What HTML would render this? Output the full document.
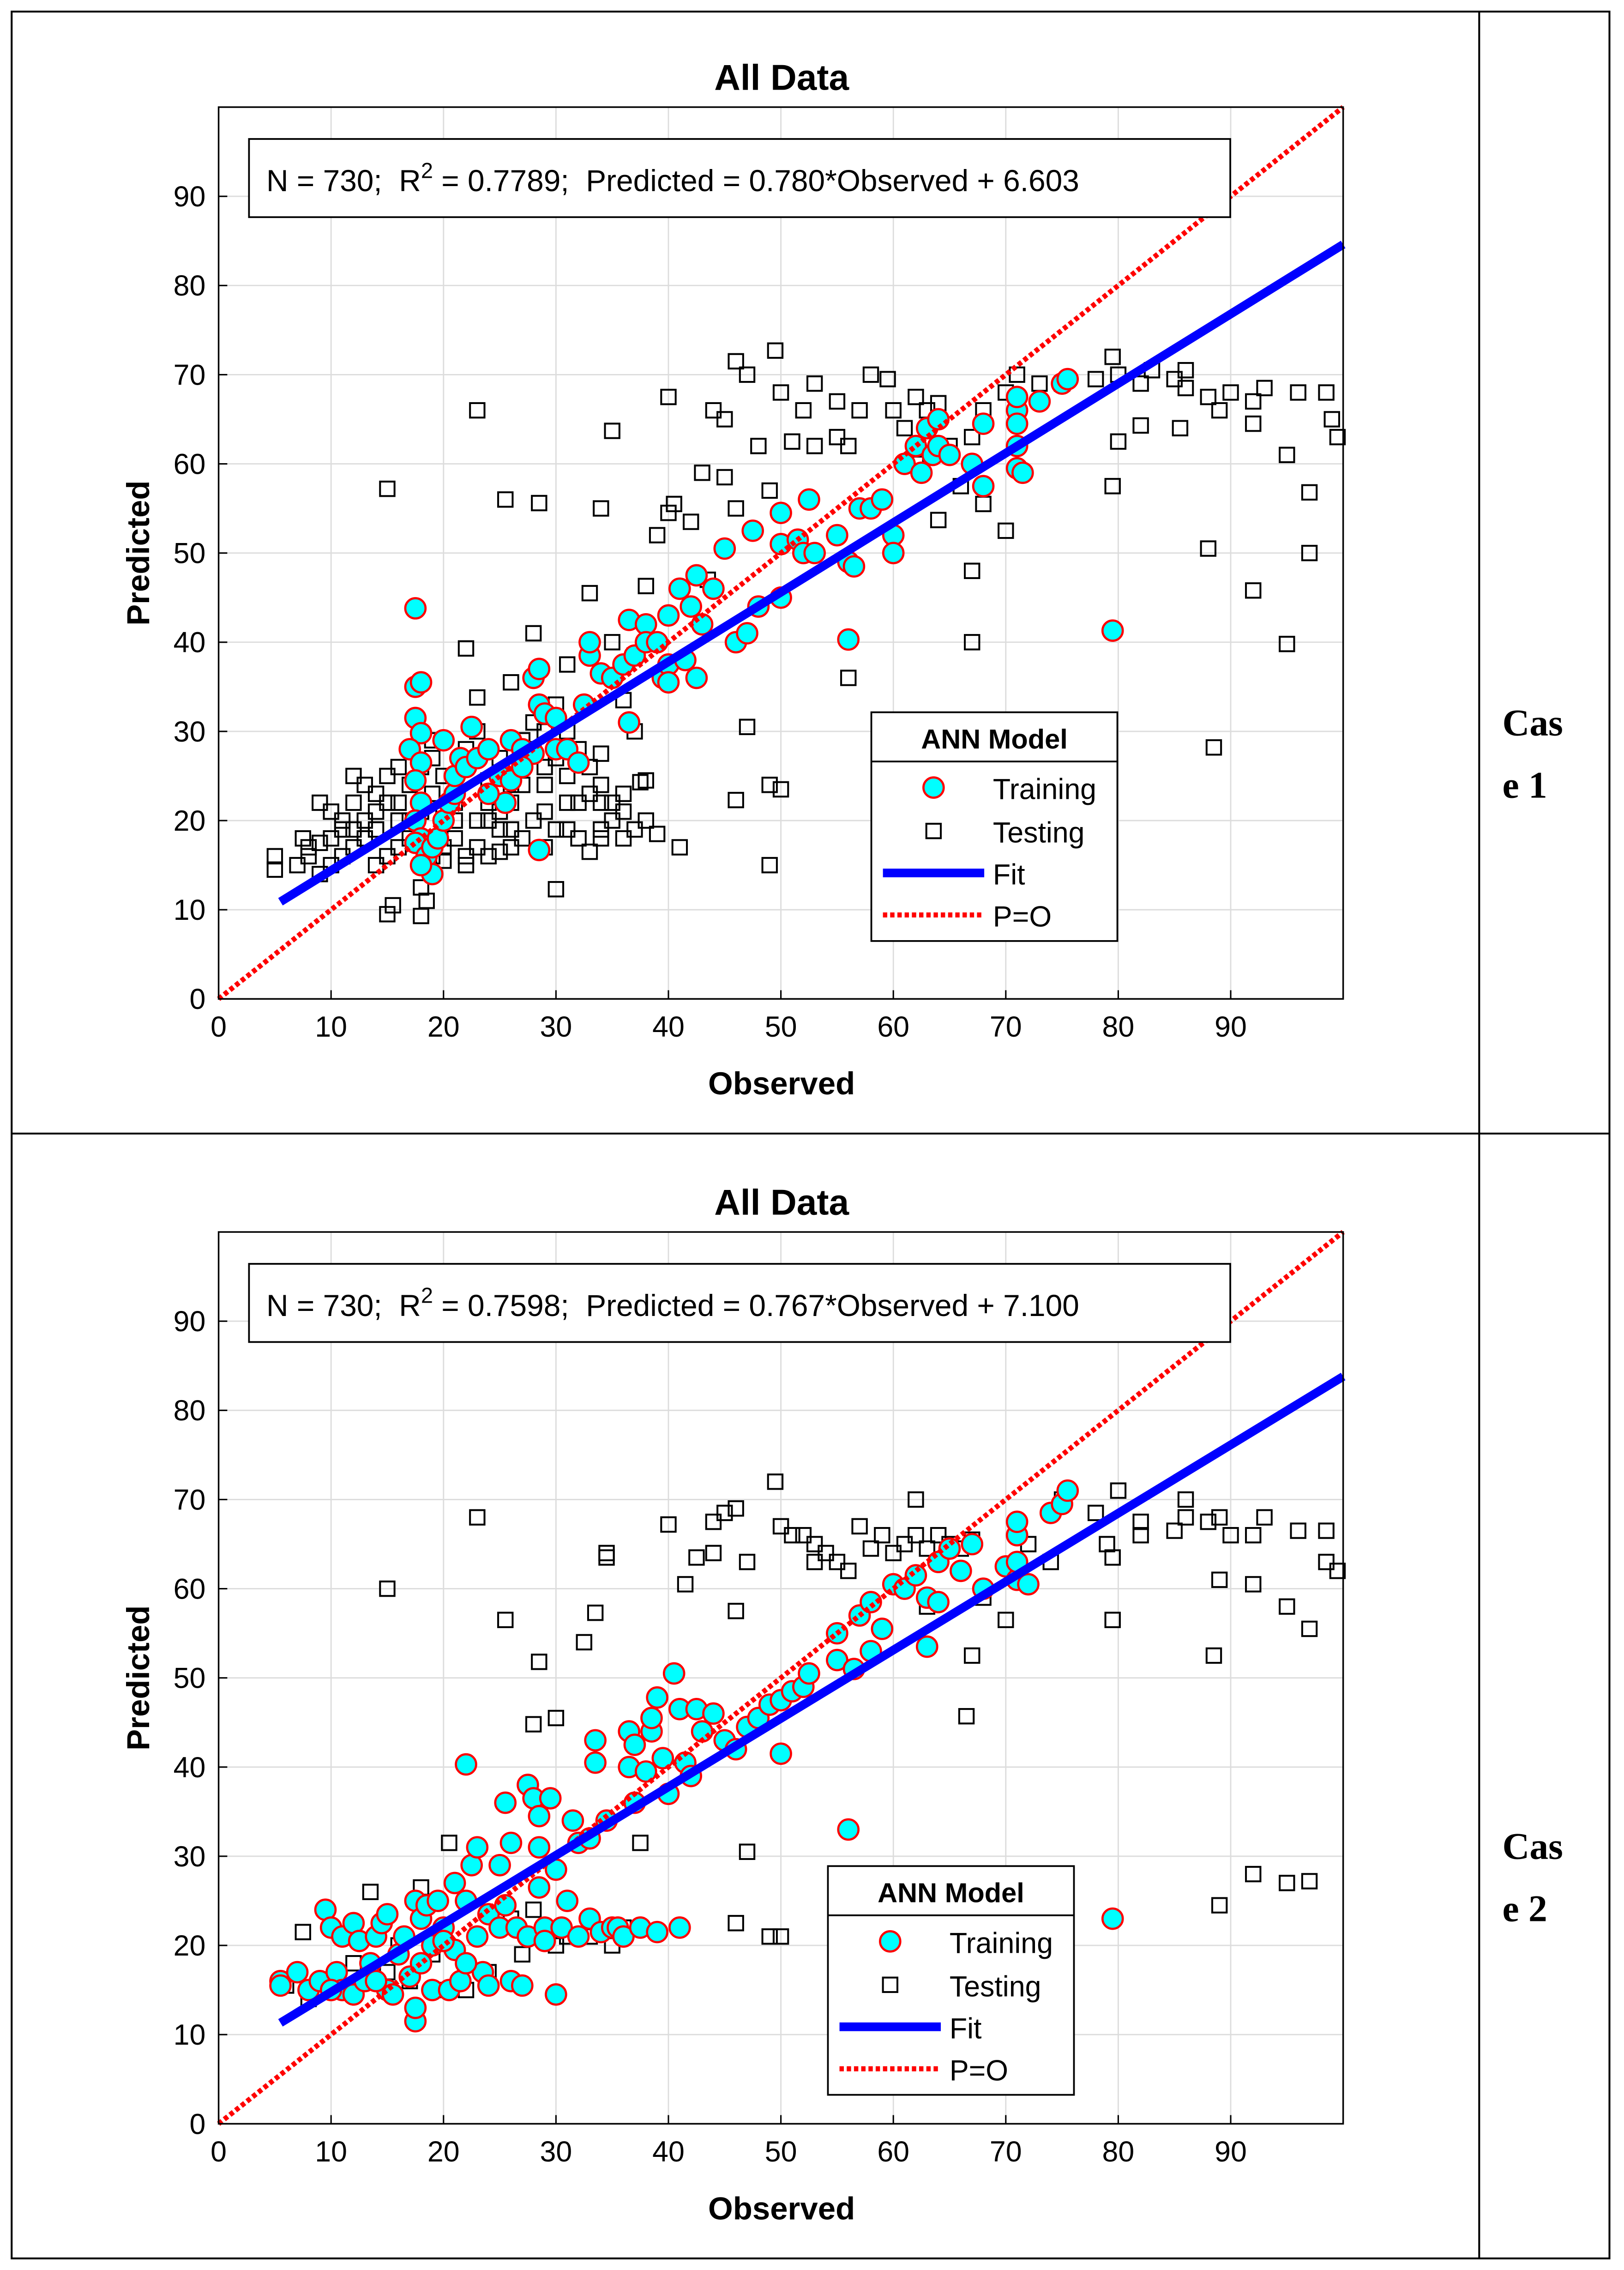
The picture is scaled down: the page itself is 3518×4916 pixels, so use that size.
<!DOCTYPE html>
<html><head><meta charset="utf-8"><style>
html,body{margin:0;padding:0;background:#fff}
svg{display:block}
text{font-family:"Liberation Sans",Arial,sans-serif;white-space:pre}
</style></head><body>
<svg id="chart" xmlns="http://www.w3.org/2000/svg" width="3518" height="4916" viewBox="0 0 1122 1568">
<rect x="0" y="0" width="1122" height="1568" fill="#fff"/>
<g fill="none" stroke="#000" stroke-width="1.3">
<rect x="8" y="8" width="1104" height="1552"/>
<line x1="1022" y1="8" x2="1022" y2="1560"/>
<line x1="8" y1="783" x2="1112" y2="783"/>
</g>
<g font-weight="bold" font-size="26">
<text x="1038" y="508" style="font-family:'Liberation Serif',serif">Cas</text>
<text x="1038" y="551" style="font-family:'Liberation Serif',serif">e 1</text>
</g>
<g font-weight="bold" font-size="26">
<text x="1038" y="1284" style="font-family:'Liberation Serif',serif">Cas</text>
<text x="1038" y="1327" style="font-family:'Liberation Serif',serif">e 2</text>
</g>
</svg>
<script>
const xTicks=[0,10,20,30,40,50,60,70,80,90];
const yTicks=[0,10,20,30,40,50,60,70,80,90];
const fit1=[0.780,6.603];
const fit2=[0.767,7.100];
const stats1=["730","0.7789","0.780","6.603"];
const stats2=["730","0.7598","0.767","7.100"];
const test1=[[46,71.5],[49.5,72.7],[47,70],[50,68],[52,66],[53,69],[55,67],[58,70],[59.5,69.5],[57,66],[60,66],[62,67.5],[63,66],[64,66.8],[56,62],[53,62],[51,62.5],[48,62],[45,65],[44,66],[43,59],[45,58.5],[49,57],[55,63],[61,64],[62,60],[65,62],[66,57.5],[67,63],[68,66],[70,68],[71,70],[73,69],[75,69],[78,69.5],[79.5,72],[80,70],[82,69],[83,70.5],[85,69.5],[86,70.5],[86,68.5],[88,67.5],[89,66],[90,68],[92,67],[93,68.5],[96,68],[98.5,68],[99,65],[99.5,63],[95,61],[92,64.5],[88,50.5],[92,45.8],[95,39.8],[97,50],[97,56.8],[80,62.5],[79.5,57.5],[82,64.3],[85.5,64],[88.5,28.2],[67,40],[67,48],[70,52.5],[68,55.5],[64,53.7],[56,36],[49,15],[49,24],[50,23.5],[47,30.5],[46,22.3],[46,55],[43.5,47],[42,53.5],[40,67.5],[40,54.5],[40.5,55.5],[39,52],[38,46.3],[41,17],[39,18.5],[37.5,24.3],[35,63.7],[34,55],[33,45.5],[30,12.3],[28.5,55.6],[25.5,56],[23,66],[15,57.2],[22,39.3],[28,41],[23,33.8],[26,35.5],[31,37.5],[36,33.5],[15,9.5],[15.5,10.5],[18,9.3],[18.5,11],[7,15],[8,16],[9,17.5],[10,18],[11,19],[10,21],[12,22],[13,20],[14,23],[15,25],[16,22],[17,24],[18,26],[19,27],[20,25],[21,23],[22,28],[23,30],[24,22],[25,21],[26,24],[27,26],[28,31],[29,30],[30,27],[31,25],[32,22],[33,23],[34,19],[35,20],[36,18],[37,19],[5,14.5],[5,16],[7.5,18],[9,22],[11,16],[12,17],[13,18],[14,15],[15,16],[16,17],[17,18],[18,15],[19,16],[20,17],[21,18],[22,16],[23,17],[24,16],[25,16.5],[26,17],[27,18],[28,20],[29,21],[30,19],[31,22],[32,18],[33,16.5],[34,18],[35,22],[36,23],[38,20],[26,22],[23,20],[20,21],[17,20],[14,19],[11,20],[8,17],[12,25],[16,26],[19,29],[22,26],[25,27],[28,28],[31,30],[30,33],[27,29],[24,24.5],[21,22],[18,21],[15,22],[13,24],[10,15],[9,14],[27,24],[29,24],[33,26],[34,24],[36,21],[38,24.5],[20,15.5],[22,15],[18,12.5],[25,19],[29,26],[32,28],[12,19],[14,21],[16,20],[19,23],[21,20],[24,20],[26,19],[29,17],[31,19],[34,22],[37,30],[34,27.5],[35,40],[37,38.5]];
const train1=[[17.5,43.8],[17.5,35],[18,35.5],[17.5,31.5],[18,29.8],[17,28],[18,26.5],[17.5,24.5],[18,22],[17.5,20],[18,18],[17.5,17.5],[18.5,16],[19,14],[18,15],[19,17],[19.5,18],[20,20],[20.5,22],[21,23],[21,25],[21.5,27],[22,26],[22.5,30.5],[23,27],[20,29],[24,28],[25,25],[26,24.5],[25.5,22],[26,29],[27,28],[28,27.5],[28.5,33],[28,36],[28.5,37],[29,32],[30,28],[30,31.5],[31,28],[32,26.5],[32.5,33],[33,38.5],[33,40],[34,36.5],[35,36],[36,37.5],[36.5,42.5],[37,38.5],[38,42],[38,40],[39,40],[39.5,36],[40,37.5],[40,43],[40,35.5],[41,46],[41.5,38],[42,44],[42.5,36],[42.5,47.5],[43,42],[44,46],[45,50.5],[46,40],[47,41],[47.5,52.5],[48,44],[50,54.5],[50,51],[50,45],[51.5,51.5],[52,50],[52.5,56],[53,50],[55,52],[56,49],[56.5,48.5],[56,40.3],[57,55],[58,55],[59,56],[60,52],[60,50],[61,60],[62,62],[62.5,59],[63,64],[63.5,61],[64,62],[65,61],[64,65],[67,60],[68,57.5],[68,64.5],[71,66],[71,67.5],[71,64.5],[71,59.5],[71.5,59],[71,62],[73,67],[75,69],[75.5,69.5],[79.5,41.3],[28.5,16.7],[24,23],[27,26],[36.5,31]];
const test2=[[15,60],[23,68],[25.5,56.5],[28.5,51.8],[30,45.5],[28,44.8],[32.5,54],[33.5,57.3],[34.5,63.5],[34.5,64],[40,67.2],[41.5,60.5],[42.5,63.5],[44,67.5],[45,68.5],[46,69],[47,63],[46,57.5],[47,30.5],[46,22.5],[49,21],[50,21],[49.5,72],[50,67],[51,66],[52,66],[53,65],[54,64],[55,63],[56,62],[57,67],[58,64.5],[59,66],[60,64],[61,65],[62,70],[62,66],[63,64.5],[64,66],[65,65],[66,64.5],[67,65.5],[67,52.5],[66.5,45.7],[70,56.5],[72,65],[74,63],[75,70],[78,68.5],[79,65],[79.5,63.5],[80,71],[82,67.5],[82,66],[85,66.5],[86,70],[86,68],[88,67.5],[89,68],[90,66],[92,66],[93,68],[96,66.5],[98.5,66.5],[98.5,63],[99.5,62],[95,58],[97,55.5],[89,61],[92,60.5],[88.5,52.5],[79.5,56.5],[92,28],[95,27],[97,27.2],[89,24.5],[37.5,31.5],[7.5,21.5],[13.5,26],[20.5,31.5],[18,26.5],[26,23],[28,24],[30,20],[33,21],[35,20],[10,16],[12,18],[15,17],[17,16],[20,15],[22,15],[24,17],[8,14],[16,20],[19,19],[23,21],[27,19],[31,21],[36,22],[6,15.5],[53,63],[44,64],[63,58],[68,59]];
const train2=[[5.5,16],[5.5,15.5],[8,15],[9,16],[9.5,24],[10,22],[10.5,17],[11,21],[11,15],[12,22.5],[12.5,20.5],[12,14.5],[13,16],[13.5,18],[14,21],[14.5,22.5],[15,23.5],[15,15],[15.5,14.5],[16,19],[16.5,21],[17,16.5],[17.5,25],[17.5,11.5],[17.5,13],[18,23],[18,18],[18.5,24.5],[19,20],[19,15],[19.5,25],[20,22],[20.5,15],[21,27],[21,19.5],[21.5,16],[22,40.3],[22,25],[22.5,29],[23,31],[23,21],[23.5,17],[24,23.5],[24,15.5],[25,22],[25,29],[25.5,24.5],[25.5,36],[26,31.5],[26,16],[26.5,22],[27,15.5],[27.5,21],[27.5,38],[28,36.5],[28.5,34.5],[28.5,26.5],[28.5,31],[29,22],[29,20.5],[29.5,36.5],[30,14.5],[30,28.5],[30.5,22],[31,25],[31.5,34],[32,21],[32,31.5],[33,23],[33,32],[33.5,40.5],[33.5,43],[34,21.5],[34.5,34],[35,22],[35.5,22],[36,21],[36.5,40],[36.5,44],[37,42.5],[37,36],[37.5,22],[38,39.5],[38.5,44],[38.5,45.5],[39,47.8],[39,21.5],[39.5,41],[40,37],[40.5,50.5],[41,22],[41,46.5],[41.5,40.5],[42,39],[42.5,46.5],[43,44],[44,46],[45,43],[46,42],[47,44.5],[48,45.5],[49,47],[50,41.5],[50,47.5],[51,48.5],[52,49],[52.5,50.5],[55,55],[55,52],[56,33],[56.5,51],[57,57],[58,53],[58,58.5],[59,55.5],[60,60.5],[61,60],[62,61.5],[63,53.5],[63,59],[64,58.5],[64,63],[65,64.5],[66,62],[67,65],[68,60],[70,62.5],[71,61],[71,63],[71,66],[71,67.5],[72,60.5],[74,68.5],[75,69.5],[75.5,71],[79.5,23],[10,15],[7,17],[14,16],[22,18],[20,20.5]];

const NS="http://www.w3.org/2000/svg";
const svg=document.getElementById('chart');
function mk(tag,attrs,parent,txt){const e=document.createElementNS(NS,tag);for(const k in attrs)e.setAttribute(k,attrs[k]);if(txt!==undefined)e.textContent=txt;parent.appendChild(e);return e;}

function drawPanel(p,oy,fit,stats,test,train,lx,ly){
  const L=151,R=928,T=74+oy,B=690+oy;
  const sx=v=>L+(R-L)*v/100;
  const sy=v=>B-(B-T)*v/100;
  const g=mk('g',{},svg);
  
  
  const t=mk('text',{x:540,y:T-12,'text-anchor':'middle','font-size':25,'font-weight':'bold'},g,'All Data');
  
  
  const grid=mk('g',{stroke:'#dcdcdc','stroke-width':0.9},g);
  
  
  xTicks.forEach(v=>{if(v>0)mk('line',{x1:sx(v),x2:sx(v),y1:T,y2:B},grid);});
  yTicks.forEach(v=>{if(v>0)mk('line',{x1:L,x2:R,y1:sy(v),y2:sy(v)},grid);});
  const xl=mk('g',{'font-size':20,'text-anchor':'middle'},g);
  
  
  xTicks.forEach(v=>{mk('text',{x:sx(v),y:B+26},xl,String(v));mk('line',{x1:sx(v),x2:sx(v),y1:B,y2:B-6,stroke:'#000'},g);});
  const yl=mk('g',{'font-size':20,'text-anchor':'end'},g);
  
  
  yTicks.forEach(v=>{mk('text',{x:L-9,y:sy(v)+7},yl,String(v));mk('line',{x1:L,x2:L+6,y1:sy(v),y2:sy(v),stroke:'#000'},g);});
  const xt=mk('text',{x:540,y:B+66,'text-anchor':'middle','font-size':22,'font-weight':'bold'},g,'Observed');
  
  
  const yc=(T+B)/2;
  const yt=mk('text',{x:103,y:yc,'text-anchor':'middle','font-size':22,'font-weight':'bold',transform:`rotate(-90 103 ${yc})`},g,'Predicted');
  
  
  const te=mk('g',{fill:'none',stroke:'#000','stroke-width':1.3},g);
  
  
  test.forEach(d=>{const r=mk('rect',{x:sx(d[0])-5,y:sy(d[1])-5,width:10,height:10},te);
    
    });
  const tr=mk('g',{fill:'#00ffff',stroke:'#ff0000','stroke-width':1.5},g);
  
  
  train.forEach(d=>{const c=mk('circle',{cx:sx(d[0]),cy:sy(d[1]),r:7},tr);
    
    });
  const po=mk('line',{x1:sx(0),y1:sy(0),x2:sx(100),y2:sy(100),stroke:'#ff0000','stroke-width':3.5,'stroke-dasharray':'3 2'},g);
  
  
  const x0=5.5,x1=100;
  const fl=mk('line',{x1:sx(x0),y1:sy(fit[0]*x0+fit[1]),x2:sx(x1),y2:sy(fit[0]*x1+fit[1]),stroke:'#0000ff','stroke-width':6},g);
  
  
  const ax=mk('rect',{x:L,y:T,width:R-L,height:B-T,fill:'none',stroke:'#000','stroke-width':1.1},g);
  
  
  const an=mk('g',{},g);
  
  
  mk('rect',{x:172,y:T+22,width:678,height:54,fill:'#fff',stroke:'#000','stroke-width':1.2},an);
  const at=mk('text',{x:184,y:T+58,'font-size':21},an);
  mk('tspan',{},at,`N = ${stats[0]};  R`);
  mk('tspan',{dy:-9,'font-size':15},at,'2');
  mk('tspan',{dy:9},at,` = ${stats[1]};  Predicted = ${stats[2]}*Observed + ${stats[3]}`);
  const lg=mk('g',{},g);
  
  
  mk('rect',{x:lx,y:ly,width:170,height:158,fill:'#fff',stroke:'#000','stroke-width':1.2},lg);
  mk('line',{x1:lx,x2:lx+170,y1:ly+34,y2:ly+34,stroke:'#000','stroke-width':1.2},lg);
  mk('text',{x:lx+85,y:ly+25,'text-anchor':'middle','font-size':19,'font-weight':'bold'},lg,'ANN Model');
  mk('circle',{cx:lx+43,cy:ly+52,r:7,fill:'#00ffff',stroke:'#ff0000','stroke-width':1.5},lg);
  mk('text',{x:lx+84,y:ly+60,'font-size':20},lg,'Training');
  mk('rect',{x:lx+38,y:ly+77,width:10,height:10,fill:'none',stroke:'#000','stroke-width':1.3},lg);
  mk('text',{x:lx+84,y:ly+90,'font-size':20},lg,'Testing');
  mk('line',{x1:lx+8,x2:lx+78,y1:ly+111,y2:ly+111,stroke:'#0000ff','stroke-width':6},lg);
  mk('text',{x:lx+84,y:ly+119,'font-size':20},lg,'Fit');
  mk('line',{x1:lx+8,x2:lx+78,y1:ly+140,y2:ly+140,stroke:'#ff0000','stroke-width':3.5,'stroke-dasharray':'3 2'},lg);
  mk('text',{x:lx+84,y:ly+148,'font-size':20},lg,'P=O');
}
drawPanel(1,0,fit1,stats1,test1,train1,602,492);
drawPanel(2,777,fit2,stats2,test2,train2,572,1289);
</script>
</body></html>
